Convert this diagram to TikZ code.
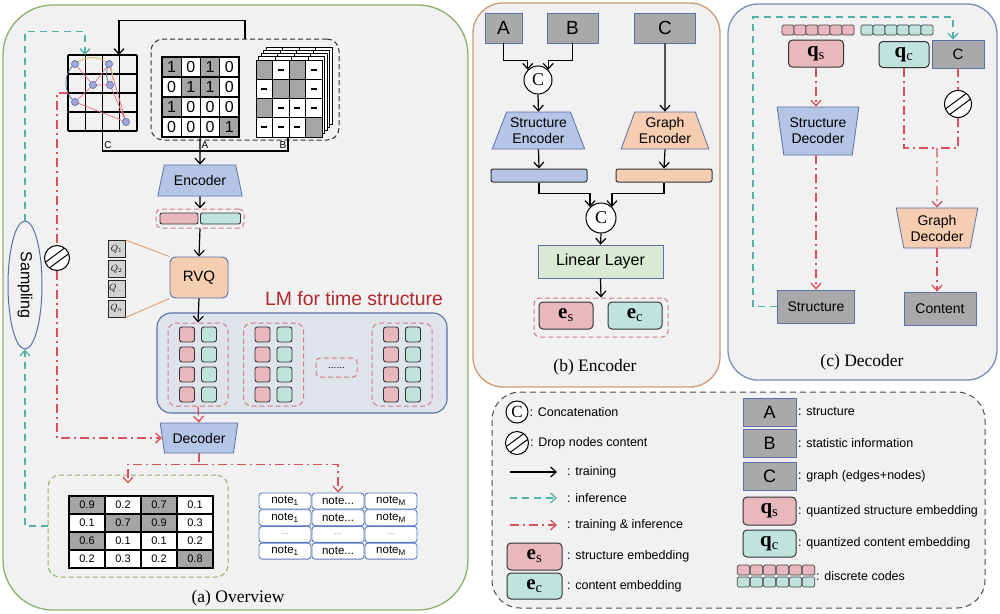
\documentclass[tikz,border=0pt]{standalone}
\usepackage{fontspec}
\setmainfont{Liberation Serif}
\setsansfont{Liberation Sans}
\usetikzlibrary{arrows.meta, shapes.geometric, positioning, calc}

\definecolor{panelbg}{HTML}{F1F1F1}
\definecolor{greenline}{HTML}{8DB06B}
\definecolor{tanline}{HTML}{CF9A73}
\definecolor{bluepanel}{HTML}{7C8DBA}
\definecolor{bluefill}{HTML}{B4C5E6}
\definecolor{blueline}{HTML}{5C6FA8}
\definecolor{peach}{HTML}{F5CDB1}
\definecolor{pinkfill}{HTML}{E9B8BF}
\definecolor{tealfill}{HTML}{C0E3DC}
\definecolor{grayfill}{HTML}{A9A9A9}
\definecolor{greenfill}{HTML}{D9E9D3}
\definecolor{redarrow}{HTML}{D9505E}
\definecolor{tealarrow}{HTML}{4FB3A9}
\definecolor{lmfill}{HTML}{DFE3EC}
\definecolor{lmred}{HTML}{B2282E}
\definecolor{cellgray}{HTML}{A5A5A5}
\definecolor{dashpink}{HTML}{D47A80}
\definecolor{noteblue}{HTML}{5A7BC0}
\definecolor{goldline}{HTML}{D8B868}
\definecolor{orangeline}{HTML}{D9A070}
\definecolor{gnodefill}{HTML}{A3A4DA}
\definecolor{qgray}{HTML}{D3D3D3}

\newcommand{\boxfont}{\sffamily\fontsize{14}{16}\selectfont}
\newcommand{\legfont}{\sffamily\fontsize{12.5}{15}\selectfont}
\newcommand{\capfont}{\rmfamily\fontsize{17.5}{20}\selectfont}
\newcommand{\embfont}{\rmfamily\fontsize{21}{22}\selectfont}

\tikzset{
  panel/.style={rounded corners=30pt, fill=panelbg, line width=1.3pt},
  legbox/.style={draw=black!70, dash pattern=on 6pt off 4pt, line width=1pt, rounded corners=28pt, fill=panelbg},
  trapbox/.style={trapezium, trapezium stretches=true, trapezium angle=#1, draw=blueline, fill=bluefill,
    line width=0.8pt, inner sep=0pt, align=center, font=\boxfont},
  flipped/.style={shape border rotate=180},
  graybox/.style={draw=blueline, fill=grayfill, line width=0.8pt, inner sep=0pt, font=\boxfont},
  embbox/.style={draw=black!80, line width=1pt, rounded corners=4pt, inner sep=0pt,
    minimum width=54pt, minimum height=27pt, font=\embfont},
  pinkbox/.style={embbox, fill=pinkfill},
  tealbox/.style={embbox, fill=tealfill},
  codesq/.style={draw=black!75, line width=0.7pt, rounded corners=1.5pt, minimum width=12pt,
    minimum height=10pt, inner sep=0pt},
  smallsq/.style={draw=black!80, line width=0.9pt, rounded corners=2.5pt, minimum size=15pt, inner sep=0pt},
  grp/.style={draw=dashpink, dash pattern=on 5pt off 3pt, line width=1pt, rounded corners=8pt, inner sep=0pt},
  concat/.style={circle, draw, line width=1pt, fill=white, inner sep=0pt,
    font=\rmfamily\fontsize{18}{18}\selectfont},
  dropnode/.style={circle, draw, line width=1pt, fill=white, inner sep=0pt, minimum size=25pt,
    path picture={
      \draw[line width=1pt] ([shift={(-14pt,-6pt)}]path picture bounding box.center)
        -- ([shift={(9pt,11pt)}]path picture bounding box.center);
      \draw[line width=1pt] ([shift={(-9pt,-11pt)}]path picture bounding box.center)
        -- ([shift={(14pt,6pt)}]path picture bounding box.center);}},
  trn/.style={draw=black, line width=1.2pt},
  infer/.style={draw=tealarrow, line width=1.3pt, dash pattern=on 7pt off 5pt},
  tinf/.style={draw=redarrow, line width=1.3pt, dash pattern=on 9pt off 4pt on 2pt off 4pt},
  acell/.style={draw=black, line width=1.2pt, minimum width=19.25pt, minimum height=20pt, inner sep=0pt,
    font=\sffamily\fontsize{16}{16}\selectfont},
  v1/.style={fill=cellgray}, v0/.style={fill=white},
  bcell/.style={draw=black, line width=1pt, minimum width=16.5pt, minimum height=19.25pt, inner sep=0pt},
  bg/.style={fill=cellgray}, bd/.style={fill=white, execute at begin node={\rule{6pt}{1.8pt}}},
  vcell/.style={draw=black, line width=1.3pt, minimum width=36pt, minimum height=18pt, inner sep=0pt,
    font=\sffamily\fontsize{11}{11}\selectfont},
  ncell/.style={draw=noteblue, fill=white, rounded corners=3pt, line width=0.9pt, minimum width=52pt,
    minimum height=16pt, inner sep=0pt, font=\sffamily\fontsize{11.5}{12}\selectfont},
  qbox/.style={draw=black!85, fill=qgray, line width=1pt, minimum size=17pt, inner sep=0pt,
    font=\fontsize{9}{9}\selectfont},
  legtext/.style={anchor=west, inner sep=1pt, font=\legfont},
  lbl/.style={inner sep=0pt, font=\sffamily\fontsize{10}{10}\selectfont},
}

\begin{document}
\begin{tikzpicture}[x=1pt, y=-1pt, >={Straight Barb[length=5.5pt,width=10pt]}]
\useasboundingbox (0,0) rectangle (1000,613);

% panels and legend frame
\draw[panel, draw=greenline, rounded corners=50pt] (3,5) rectangle (468,610);
\draw[panel, draw=tanline] (473,3) rectangle (720,387);
\draw[panel, draw=bluepanel] (728,4) rectangle (997,380);
\draw[legbox] (492,392) rectangle (985,608);

%%% (a) Overview
% graph C
\foreach \i in {0,...,4} {
  \draw[line width=1.2pt] (68+\i*17.25,55) -- (68+\i*17.25,131);
  \draw[line width=1.2pt] (68,55+\i*19) -- (137,55+\i*19);
}
\coordinate (g1) at (75,64);
\coordinate (g2) at (109,64);
\coordinate (g3) at (93,85);
\coordinate (g4) at (110,85);
\coordinate (g5) at (75,102);
\coordinate (g6) at (126,122);
\draw[draw=redarrow!80, line width=0.7pt] (g1) -- (g3) (g2) -- (g3) (g3) -- (g4) (g2) -- (g6)
  (g5) -- (g6) (g4) -- (g6) (g3) -- (g5);
\draw[draw=goldline, line width=0.8pt] (g1) to[bend left=40] (g2);
\draw[draw=goldline, line width=0.8pt] (g2) to[bend left=30] (g4);
\draw[draw=blueline, line width=0.8pt] (g1) to[bend right=55] (g5);
\draw[draw=blueline, line width=0.8pt] (g2) to[bend right=30] (g4);
\foreach \g in {g1,g2,g3,g4,g5,g6}
  \draw[draw=blueline, fill=gnodefill, line width=0.6pt] (\g) circle (3.6pt);

\node[lbl] (lblC) at (108,145) {C};
\node[lbl] (lblA) at (205,145) {A};
\node[lbl] (lblB) at (283,145) {B};

% structure A and statistics B
\node[draw=black!80, dash pattern=on 5pt off 3pt, line width=1pt, rounded corners=12pt,
  minimum width=188pt, minimum height=101pt] (sab) at (245,89.5) {};

\foreach \row [count=\ri] in {{1,0,1,0},{0,1,1,0},{1,0,0,0},{0,0,0,1}} {
  \foreach \v [count=\ci] in \row {
    \node[acell, v\v] (a\ri\ci) at (162+\ci*19.25-9.625, 57+\ri*20-10) {\v};
  }
}

\foreach \k in {4,3,2,1} {
  \draw[line width=1pt, fill=white] (256+2.5*\k,60-3.2*\k) rectangle (322+2.5*\k,137-3.2*\k);
  \foreach \i in {1,2,3}
    \draw[line width=1pt] (256+2.5*\k+\i*16.5,60-3.2*\k) -- ++(0,10);
}
\foreach \row [count=\ri] in {{g,d,g,d},{d,g,g,d},{g,d,d,d},{d,d,d,g}} {
  \foreach \v [count=\ci] in \row {
    \node[bcell, b\v] (b\ri\ci) at (256+\ci*16.5-8.25, 60+\ri*19.25-9.625) {};
  }
}

\coordinate (cbot) at (102.5,131);
\coordinate (abot) at (200,137);
\coordinate (bbot) at (288,137);
\coordinate (ctop) at (119,55);
\coordinate (ctop2) at (85,55);
\coordinate (cleft) at (68,93);

% encoder, RVQ
\node[trapbox=65, minimum width=85pt, minimum height=31pt] (enc) at (200,180.5) {Encoder};
\node[grp, rounded corners=5pt, minimum width=88pt, minimum height=19pt] (embbar) at (200,218.5) {};
\node[draw=black!80, fill=pinkfill, line width=0.9pt, rounded corners=2pt, inner sep=0pt,
  minimum width=38pt, minimum height=11pt] (embs) at (179,218.5) {};
\node[draw=black!80, fill=tealfill, line width=0.9pt, rounded corners=2pt, inner sep=0pt,
  minimum width=40pt, minimum height=11pt] (embc) at (220.5,218.5) {};
\node[draw=blueline, fill=peach, line width=0.9pt, rounded corners=6pt, minimum width=58pt,
  minimum height=41pt, font=\sffamily\fontsize{15}{15}\selectfont] (rvq) at (199,277.5) {RVQ};

\node[qbox] (q1) at (116.5,249) {$Q_1$};
\node[qbox] (q2) at (116.5,269) {$Q_2$};
\node[qbox] (q3) at (116.5,288.5) {$Q_{\dots}$};
\node[qbox] (q4) at (116.5,308.5) {$Q_n$};
\draw[draw=orangeline, line width=0.9pt] (q1.north east) -- (rvq.north west);
\draw[draw=orangeline, line width=0.9pt] (q4.south east) -- (rvq.south west);

\draw[trn,->] (abot) -- (enc.north);
\draw[trn] (cbot) -- ++(0,20) -| (bbot);
\draw[trn,->] (sab.north) -- ++(0,-18) -| (ctop);
\draw[trn,->] (enc.south) -- (embbar.north);
\draw[trn,->] (embbar.south) -- (rvq.north);

% LM block
\node[font=\sffamily\fontsize{19.4}{20}\selectfont, text=lmred] (lmtitle) at (354,299) {LM for time structure};
\node[draw=blueline, fill=lmfill, line width=1.1pt, rounded corners=14pt, minimum width=290pt,
  minimum height=100pt] (lm) at (302,363) {};
\foreach \gx [count=\gi] in {198,273.5,402} {
  \node[grp, minimum width=60pt, minimum height=83pt] (grp\gi) at (\gx,364.5) {};
  \foreach \dy [count=\k] in {-30,-10,10,30} {
    \node[smallsq, fill=pinkfill] (ps\gi\k) at (\gx-11,364.5+\dy) {};
    \node[smallsq, fill=tealfill] (ts\gi\k) at (\gx+11,364.5+\dy) {};
  }
}
\node[grp, rounded corners=4pt, minimum width=41pt, minimum height=19pt,
  font=\sffamily\fontsize{10}{10}\selectfont] (dots) at (336.5,367.5) {......};
\draw[trn,->] (rvq.south) -- (grp1.north);

% decoder
\node[trapbox=72, flipped, minimum width=78pt, minimum height=30pt] (dec) at (199,438) {Decoder};
\draw[tinf,->] (grp1.south) -- (dec.north);
\node[dropnode] (dropa) at (57,258) {};
\draw[tinf] (cleft) -| (dropa.north);
\draw[tinf,->] (dropa.south) |- (dec.west);

% value table and notes
\node[draw=greenline, dash pattern=on 5pt off 3pt, line width=1pt, rounded corners=12pt,
  minimum width=180pt, minimum height=102pt] (vbox) at (138,526) {};
\foreach \row [count=\ri] in {{0.9/1,0.2/0,0.7/1,0.1/0},{0.1/0,0.7/1,0.9/1,0.3/0},
    {0.6/1,0.1/0,0.1/0,0.2/0},{0.2/0,0.3/0,0.2/0,0.8/1}} {
  \foreach \v/\s [count=\ci] in \row {
    \node[vcell, v\s] (v\ri\ci) at (69+\ci*36-18, 496+\ri*18-9) {\v};
  }
}
\foreach \txt [count=\ri] in {1,2,3,4} {
  \ifnum\ri=3
    \foreach \x [count=\ci] in {285,338,391}
      \node[ncell, text=black!50, font=\sffamily\fontsize{8}{8}\selectfont] (n\ri\ci) at (\x,501+16.7*\ri-16.7) {...};
  \else
    \node[ncell] (n\ri1) at (285,501+16.7*\ri-16.7) {note\textsubscript{1}};
    \node[ncell] (n\ri2) at (338,501+16.7*\ri-16.7) {note...};
    \node[ncell] (n\ri3) at (391,501+16.7*\ri-16.7) {note\textsubscript{M}};
  \fi
}
\draw[tinf] (dec.south) -- ++(0,11) coordinate (dsplit);
\draw[tinf,->] (dsplit) -| ([xshift=-10pt,yshift=-9pt]vbox.north);
\draw[tinf,->] (dsplit) -| (n12.north);

% sampling loop
\node[ellipse, draw=blueline, line width=1pt, minimum width=34pt, minimum height=128pt] (samp) at (25,285) {};
\node[rotate=-90, font=\sffamily\fontsize{16}{16}\selectfont] (samptxt) at (samp.center) {Sampling};
\draw[infer,->] (vbox.west) -| (samp.south);
\draw[infer,->] (samp.north) -- ++(0,-189) -| (ctop2);

\node[font=\capfont] (capa) at (238,598) {(a) Overview};

%%% (b) Encoder
\node[graybox, minimum width=37pt, minimum height=30pt, font=\sffamily\fontsize{19}{19}\selectfont] (ba) at (503.5,28) {A};
\node[graybox, minimum width=51pt, minimum height=30pt, font=\sffamily\fontsize{19}{19}\selectfont] (bb) at (572.5,28) {B};
\node[graybox, minimum width=61pt, minimum height=30pt, font=\sffamily\fontsize{19}{19}\selectfont] (bc) at (665,28) {C};
\node[concat, minimum size=28pt] (cc1) at (538,80) {C};
\draw[trn,->] (ba.south) -- ++(0,17) -| (cc1.north west);
\draw[trn,->] (bb.south) -- ++(0,17) -| (cc1.north east);
\node[trapbox=64, minimum width=93pt, minimum height=37pt] (senc) at (538.5,130.5) {Structure\\Encoder};
\node[trapbox=66, fill=peach, minimum width=88pt, minimum height=37pt] (genc) at (665,130.5) {Graph\\Encoder};
\draw[trn,->] (cc1.south) -- (senc.north);
\draw[trn,->] (bc.south) -- (genc.north);
\node[draw=black!80, fill=bluefill, line width=1pt, rounded corners=2pt, inner sep=0pt,
  minimum width=96pt, minimum height=13pt] (sbar) at (539,175.5) {};
\node[draw=black!80, fill=peach, line width=1pt, rounded corners=2pt, inner sep=0pt,
  minimum width=96pt, minimum height=13pt] (gbar) at (664,175.5) {};
\draw[trn,->] (senc.south) -- (sbar.north);
\draw[trn,->] (genc.south) -- (gbar.north);
\node[concat, minimum size=30pt] (cc2) at (601,218) {C};
\draw[trn,->] (sbar.south) -- ++(0,11) -| (cc2.north west);
\draw[trn,->] (gbar.south) -- ++(0,11) -| (cc2.north east);
\node[draw=blueline, fill=greenfill, line width=0.8pt, minimum width=125pt, minimum height=33pt,
  font=\sffamily\fontsize{16}{16}\selectfont] (lin) at (600.5,261.5) {Linear Layer};
\draw[trn,->] (cc2.south) -- (lin.north);
\node[grp, rounded corners=6pt, minimum width=134pt, minimum height=39pt] (ebox) at (601,317.5) {};
\draw[trn,->] (lin.south) -- (ebox.north);
\node[pinkbox] (es) at (566,315.5) {\textbf{e}\textsubscript{s}};
\node[tealbox] (ec) at (635,315.5) {\textbf{e}\textsubscript{c}};
\node[font=\capfont] (capb) at (595,367) {(b) Encoder};

%%% (c) Decoder
\foreach \k in {0,...,5} {
  \node[codesq, fill=pinkfill] (cps\k) at (788+12*\k,30) {};
  \node[codesq, fill=tealfill] (cpt\k) at (867+12*\k,30) {};
}
\node[pinkbox, minimum width=55pt] (qs) at (816,53.5) {\textbf{q}\textsubscript{s}};
\node[tealbox, minimum width=50pt, minimum height=26pt] (qc) at (904,54.5) {\textbf{q}\textsubscript{c}};
\node[graybox, minimum width=52pt, minimum height=28pt, font=\sffamily\fontsize{15}{15}\selectfont] (cC) at (958,54) {C};
\node[trapbox=78, flipped, minimum width=82pt, minimum height=48pt] (sdec) at (818,131) {Structure\\Decoder};
\node[graybox, minimum width=77pt, minimum height=33pt] (strc) at (816,306.5) {Structure};
\draw[tinf,->] (qs.south) -- (qs.south |- sdec.north);
\draw[tinf,->] (strc.north |- sdec.south) -- (strc.north);
\draw[infer,->] (strc.west) -- ++(-24,0) -- ++(0,-289.5) -| ([xshift=-5pt]cC.north);
\node[dropnode, minimum size=27pt] (dropc) at (958,104) {};
\draw[tinf] (cC.south) -- (dropc.north);
\coordinate (cjoin) at (937,148);
\draw[tinf] (dropc.south) |- (cjoin);
\draw[tinf] (qc.south) |- (cjoin);
\node[trapbox=77, flipped, fill=peach, minimum width=82pt, minimum height=40pt] (gdec) at (937,228) {Graph\\Decoder};
\draw[tinf,->] (cjoin) -- (gdec.north);
\node[graybox, minimum width=72pt, minimum height=33pt] (cont) at (940,308.5) {Content};
\draw[tinf,->] (gdec.south) -- (gdec.south |- cont.north);
\node[font=\capfont] (capc) at (862,362) {(c) Decoder};

%%% legend
\node[concat, minimum size=22pt, font=\rmfamily\fontsize{17}{17}\selectfont] (lcc) at (517,412) {C};
\node[legtext] (lt1) at (lcc.east) {: Concatenation};
\node[dropnode, minimum size=23pt] (ldrop) at (517,443) {};
\node[legtext] (lt2) at (ldrop.east) {: Drop nodes content};
\coordinate (la1) at (510,472);
\coordinate (la2) at (557,472);
\coordinate (lb1) at (510,498);
\coordinate (lb2) at (557,498);
\coordinate (lc1) at (510,525);
\coordinate (lc2) at (557,525);
\draw[trn,->] (la1) -- (la2);
\draw[infer,->] (lb1) -- (lb2);
\draw[tinf,->] (lc1) -- (lc2);
\node[legtext] (lt3) at (566,472) {: training};
\node[legtext] (lt4) at (566,498) {: inference};
\node[legtext] (lt5) at (566,525) {: training \& inference};
\node[pinkbox, minimum width=55pt] (les) at (534.5,556.5) {\textbf{e}\textsubscript{s}};
\node[legtext] (lt6) at (566,556.5) {: structure embedding};
\node[tealbox, minimum width=55pt, minimum height=26pt] (lec) at (534.5,586) {\textbf{e}\textsubscript{c}};
\node[legtext] (lt7) at (566,586) {: content embedding};

\node[graybox, minimum width=53pt, minimum height=28pt, font=\sffamily\fontsize{18}{18}\selectfont] (lA) at (769.5,412) {A};
\node[legtext] (lt8) at (797,412) {: structure};
\node[graybox, minimum width=53pt, minimum height=28pt, font=\sffamily\fontsize{18}{18}\selectfont] (lB) at (769.5,443.5) {B};
\node[legtext] (lt9) at (797,443.5) {: statistic information};
\node[graybox, minimum width=53pt, minimum height=28pt, font=\sffamily\fontsize{18}{18}\selectfont] (lC) at (769.5,476.5) {C};
\node[legtext] (lt10) at (797,476.5) {: graph (edges+nodes)};
\node[pinkbox, minimum width=53pt, minimum height=28pt] (lqs) at (769.5,511) {\textbf{q}\textsubscript{s}};
\node[legtext] (lt11) at (797,511) {: quantized structure embedding};
\node[tealbox, minimum width=53pt, minimum height=27pt] (lqc) at (769.5,543.5) {\textbf{q}\textsubscript{c}};
\node[legtext] (lt12) at (797,543.5) {: quantized content embedding};
\foreach \k in {0,...,5} {
  \node[codesq, fill=pinkfill, minimum width=12.5pt] (lps\k) at (743.5+13*\k,570) {};
  \node[codesq, fill=tealfill, minimum width=12.5pt] (lpt\k) at (743.5+13*\k,582) {};
}
\node[legtext] (lt13) at (815,576) {: discrete codes};
\end{tikzpicture}
\end{document}
